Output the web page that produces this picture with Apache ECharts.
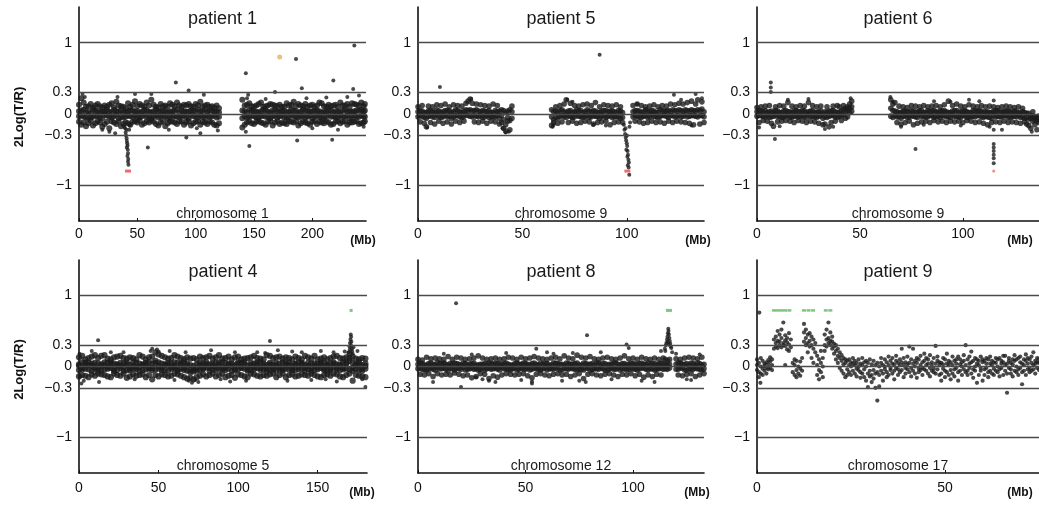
<!DOCTYPE html>
<html><head><meta charset="utf-8">
<script src="https://cdn.jsdelivr.net/npm/echarts@6/dist/echarts.min.js"></script>
<style>html,body{margin:0;padding:0;background:#fff}#c{width:1039px;height:505px}</style>
</head><body><div id="c"></div>
<script>
// ---------- tick labels ----------
const yTicks = [-1, -0.3, 0, 0.3, 1];
const xTicks1 = [0, 50, 100, 150, 200];
const xTicks5 = [0, 50, 100];
const xTicks6 = [0, 50, 100];
const xTicks4 = [0, 50, 100, 150];
const xTicks8 = [0, 50, 100];
const xTicks9 = [0, 50];

// ---------- patient 1, chromosome 1: rows [Mb, log ratios...] ----------
const band1 = [
[0,.04,-.03,.13,-.11],[2,-.02,.05,.22,-.15],[4,.06,-.04,-.12,.16],[6,-.05,.02,.1,-.17],[8,.03,-.06,-.13,.11],[10,.01,-.05,.14,-.09],[12,-.04,.06,-.16,.09],[14,.05,-.02,.12,-.13],[16,-.03,.04,-.1,.14],[18,.02,-.05,.11,-.12],[20,-.06,.03,.09,-.18],[22,.04,-.01,-.14,.12],[24,-.02,.06,.1,-.11],[26,.03,-.04,-.2,.13],[28,-.05,.02,.15,-.1],[30,.06,-.03,-.12,.09],[32,-.01,.04,.17,-.14],[34,.03,-.06,-.1,.12],[36,-.04,.05,.11,-.17],[38,.02,-.05,-.14,.1],[40,-.04,.03,.08,-.12],[42,.04,-.02,-.13,.15],[44,-.03,.05,.1,-.15],[46,.05,-.04,-.11,.13],[48,-.02,.03,.18,-.1],[50,.04,-.05,-.12,.11],[52,-.05,.02,.14,-.09],[54,.03,-.03,-.15,.12],[56,-.01,.06,.1,-.13],[58,.05,-.04,-.1,.16],[60,-.04,.03,.12,-.12],[62,.02,-.06,-.09,.2],[64,-.03,.04,.13,-.11],[66,.06,-.02,-.14,.1],[68,-.05,.03,.09,-.16],[70,.03,-.04,-.12,.14],[72,-.02,.05,.11,-.1],[74,.04,-.03,-.17,.12],[76,-.06,.02,.1,-.13],[78,.03,-.05,-.11,.15],[80,-.02,.04,.13,-.1],[82,.05,-.03,-.12,.11],[84,-.04,.06,.16,-.14],[86,.02,-.04,-.1,.12],[88,-.03,.05,.1,-.11],[90,.04,-.02,-.15,.13],[92,-.05,.03,.12,-.12],[94,.03,-.06,-.1,.14],[96,-.01,.05,.11,-.16],[98,.05,-.03,-.13,.1],[100,-.03,.04,.14,-.11],[102,.06,-.05,-.1,.12],[104,-.02,.03,.17,-.15],[106,.04,-.04,-.11,.1],[108,-.05,.06,.12,-.12],[110,.03,-.02,-.14,.13],[112,-.04,.05,.1,-.1],[114,.05,-.03,-.12,.11],[116,-.02,.04,.09,-.15],[118,.03,-.05,-.16,.12],[120,-.04,.02,.08,-.13],
[140,.05,-.06,.2,-.19],[142,-.03,.04,-.15,.12],[144,.02,-.05,.13,-.12],[146,-.04,.06,-.1,.15],[148,.05,-.02,.11,-.13],[150,-.03,.04,-.14,.1],[152,.03,-.05,.12,-.11],[154,-.05,.02,-.1,.14],[156,.04,-.03,.16,-.12],[158,-.02,.06,-.13,.1],[160,.05,-.04,.11,-.15],[162,-.04,.03,-.11,.12],[164,.02,-.06,.14,-.1],[166,-.03,.05,-.16,.13],[168,.06,-.02,.12,-.12],[170,-.05,.04,-.1,.11],[172,.03,-.03,.13,-.14],[174,-.02,.05,-.12,.1],[176,.04,-.05,.1,-.13],[178,-.06,.02,-.14,.15],[180,.03,-.04,.12,-.1],[182,-.01,.06,-.11,.13],[184,.05,-.03,.17,-.12],[186,-.04,.04,-.1,.11],[188,.02,-.05,.14,-.16],[190,-.03,.03,-.13,.12],[192,.06,-.02,.11,-.1],[194,-.05,.05,-.12,.14],[196,.03,-.04,.1,-.13],[198,-.02,.03,-.15,.12],[200,.04,-.06,.13,-.11],[202,-.03,.05,-.1,.1],[204,.05,-.02,.12,-.14],[206,-.04,.04,-.11,.16],[208,.02,-.05,.15,-.12],[210,-.06,.03,-.13,.11],[212,.03,-.03,.1,-.1],[214,-.01,.06,-.12,.13],[216,.05,-.04,.11,-.15],[218,-.03,.02,-.14,.12],[220,.04,-.05,.13,-.11],[222,-.05,.04,-.1,.1],[224,.02,-.02,.16,-.13],[226,-.04,.05,-.11,.12],[228,.06,-.03,.12,-.1],[230,-.02,.04,-.15,.14],[232,.03,-.06,.1,-.12],[234,-.05,.03,-.12,.15],[236,.04,-.02,.14,-.11],[238,-.03,.05,-.1,.13],[240,.05,-.04,.12,-.14],[242,-.02,.06,-.13,.16],[244,.03,-.03,.11,-.12],[245,-.04,.05,-.1,.14]
];
const scatter1 = [[143,.57],[186,.77],[236,.96],[83,.44],[218,.47],[59,-.47],[146,-.45],[187,-.37],[217,-.36],[92,-.33],[104,-.27],[235,.35],[191,.36],[168,.31],[94,.33],[48,.28],[62,.28],[107,.27],[144,.22],[3,.28],[5,.24],[20,-.22],[26,-.25],[33,.24],[77,-.22],[101,-.2],[119,-.23],[143,-.25],[145,.27],[160,.21],[195,.22],[200,-.2],[212,.23],[230,.24],[222,-.22],[240,.26],[244,-.18],[31,-.27]];
const loss1 = [[39.5,-.2],[40,-.26],[40.3,-.3],[40.8,-.34],[41,-.38],[41.3,-.41],[41.6,-.44],[41,-.47],[41.8,-.5],[42,-.55],[41.5,-.59],[42.2,-.63],[42,-.67],[42.4,-.71],[38.8,-.18],[43,-.22],[43.5,-.16],[40.6,-.22]];
const red1 = [[42, -0.8]];
const orange1 = [[172, 0.8]];

// ---------- patient 5, chromosome 9 ----------
const band5 = [
[0,.03,-.04,.1],[1,-.02,.05,-.11],[2,.04,-.03,.12],[3,-.05,.02,-.13],[4,.02,-.06,-.18],[5,-.03,.04,.11],[6,.05,-.02,-.12],[7,-.04,.03,.1],[8,.02,-.05,-.14],[9,-.01,.06,.13],[10,.04,-.03,-.1],[11,-.05,.02,.12],[12,.03,-.04,-.13],[13,-.02,.05,.14],[14,.05,-.03,-.11],[15,-.03,.04,.1],[16,.02,-.06,-.14],[17,-.04,.03,.13],[18,.06,-.02,-.1],[19,-.02,.05,.12],[20,.03,-.04,-.12],[21,-.05,.02,.11],[22,.04,-.03,-.1],[23,-.01,.06,.15],[24,.05,-.02,.18],[25,-.03,.06,.21],[26,.04,-.04,.15],[27,-.02,.05,-.11],[28,.06,-.03,.14],[29,-.04,.04,-.12],[30,.03,-.02,.13],[31,-.05,.05,-.1],[32,.04,-.04,.12],[33,-.02,.03,-.13],[34,.05,-.05,.11],[35,-.03,.02,-.1],[36,.02,-.04,.14],[37,-.04,.05,-.11],[38,.03,-.02,.12],[39,-.06,.04,-.14],[40,-.02,-.12,.06],[41,-.08,-.2,.05],[42,.02,-.15,-.24],[43,-.05,-.1,.04],[44,-.09,-.22,.06],[45,.03,-.06,.11],
[64,-.04,.06,-.16],[65,.03,-.08,-.12],[66,-.05,.04,.1],[67,.02,-.06,-.13],[68,-.03,.05,.12],[69,.06,-.02,-.11],[70,-.04,.03,.14],[71,.02,-.05,.2],[72,-.02,.04,-.12],[73,.05,-.03,.15],[74,-.05,.02,-.1],[75,.03,-.04,.12],[76,-.01,.06,-.13],[77,.04,-.03,.11],[78,-.04,.05,-.12],[79,.02,-.05,.13],[80,-.03,.03,-.1],[81,.06,-.02,.14],[82,-.05,.04,-.11],[83,.03,-.04,.12],[84,-.02,.05,-.14],[85,.04,-.03,.16],[86,-.04,.02,-.12],[87,.02,-.06,.1],[88,-.03,.04,-.11],[89,.05,-.02,.13],[90,-.05,.05,-.1],[91,.03,-.03,.12],[92,-.02,.04,-.15],[93,.04,-.05,.11],[94,-.04,.03,-.12],[95,.02,-.04,.13],[96,-.03,.05,-.11],[97,.04,-.06,.1],[98,-.05,.02,-.12],
[103,.03,-.04,.12],[104,-.02,.05,-.1],[105,.05,-.03,.14],[106,-.04,.04,-.11],[107,.02,-.05,.12],[108,-.03,.03,-.13],[109,.06,-.02,.1],[110,-.05,.04,-.12],[111,.03,-.04,.11],[112,-.01,.05,-.1],[113,.04,-.03,.13],[114,-.04,.02,-.12],[115,.02,-.05,.1],[116,-.03,.06,-.11],[117,.05,-.02,.12],[118,-.02,.04,-.13],[119,.04,-.03,.11],[120,-.05,.05,-.1],[121,.03,-.02,.14],[122,-.02,.06,-.12],[123,.05,-.04,.13],[124,-.03,.04,-.1],[125,.06,-.02,.15],[126,-.04,.05,-.11],[127,.03,-.03,.14],[128,-.01,.06,-.12],[129,.05,-.04,.16],[130,-.03,.04,-.13],[131,.06,-.02,.18],[132,-.02,.05,-.15],[133,.04,-.03,.14],[134,-.04,.06,.2],[135,.05,-.02,-.14],[136,-.02,.07,.17],[137,.03,-.04,-.12]
];
const scatter5 = [[10.5,.38],[87,.83],[122.6,.27],[133,.28],[136,.22],[4.4,-.19],[25.5,.21],[42,-.26],[43.5,-.25],[40.5,-.2],[71.5,.2],[105,.14],[64.5,-.18],[65,-.15],[131,-.16],[126,.2],[74,.17],[90,-.16],[84,-.15]];
const loss5 = [[98.6,-.15],[98.9,-.22],[99.2,-.28],[99.5,-.33],[99.7,-.37],[100,-.41],[100.2,-.45],[99.8,-.5],[100.4,-.52],[100.6,-.57],[100.3,-.6],[100.8,-.64],[101,-.68],[100.5,-.72],[100.9,-.75],[101.2,-.85],[99.4,-.2],[100.1,-.3],[101.3,-.18],[101.6,-.12]];
const red5 = [[100.3, -0.8]];

// ---------- patient 6, chromosome 9 ----------
const band6 = [
[0,.03,-.03,.09],[1,-.02,.05,-.12],[2,.04,-.02,.1],[3,-.03,.03,-.09],[4,.05,-.04,.11],[5,-.02,.02,-.1],[6,.03,-.05,.12],[7,-.04,.04,-.13],[8,.02,-.03,-.17],[9,-.01,.05,.1],[10,.04,-.04,-.11],[11,-.03,.02,.12],[12,.02,-.05,-.1],[13,-.04,.04,.11],[14,.05,-.02,-.09],[15,-.02,.03,.16],[16,.03,-.04,-.1],[17,-.05,.02,.11],[18,.04,-.03,-.12],[19,-.02,.05,.1],[20,.03,-.04,-.09],[21,-.03,.03,.12],[22,.05,-.02,-.1],[23,-.04,.04,.11],[24,.02,-.05,-.12],[25,-.01,.03,.16],[26,.04,-.03,-.1],[27,-.03,.05,.12],[28,.02,-.04,-.11],[29,-.05,.02,.1],[30,.03,-.03,-.13],[31,-.02,.04,.11],[32,.01,-.06,-.15],[33,-.04,.03,-.14],[34,.02,-.05,.1],[35,-.03,.04,-.18],[36,.04,-.02,-.12],[37,-.02,.05,.11],[38,.03,-.04,-.1],[39,-.05,.02,.12],[40,.02,-.03,.1],[41,-.02,.05,-.09],[42,.06,-.01,.12],[43,.03,.08,-.06],[44,.05,.1,-.04],[45,.08,.14,.02],[46,.1,.04,.18],
[65,.08,-.03,.2],[66,.05,-.05,.14],[67,-.02,.04,.16],[68,.03,-.04,-.12],[69,-.04,.02,.11],[70,.02,-.06,-.14],[71,-.03,.04,.1],[72,.04,-.02,-.12],[73,-.05,.03,.09],[74,.02,-.04,-.1],[75,-.02,.05,.12],[76,.04,-.03,-.15],[77,-.04,.02,.11],[78,.03,-.05,-.13],[79,-.01,.04,.1],[80,.05,-.03,-.11],[81,-.03,.02,.12],[82,.02,-.04,-.1],[83,-.04,.05,.1],[84,.03,-.02,-.12],[85,-.02,.04,.11],[86,.05,-.05,-.09],[87,-.03,.03,.12],[88,.02,-.03,-.11],[89,-.05,.04,.1],[90,.04,-.02,-.1],[91,-.02,.05,.13],[92,.03,-.04,-.12],[93,-.04,.02,.18],[94,.02,-.05,-.1],[95,-.01,.04,.12],[96,.05,-.03,-.11],[97,-.03,.05,.14],[98,.02,-.04,-.1],[99,-.05,.03,.11],[100,.04,-.02,-.12],[101,-.02,.04,.1],[102,.03,-.05,-.09],[103,-.04,.02,.13],[104,.02,-.03,-.1],[105,-.03,.05,.11],[106,.04,-.04,-.12],[107,-.02,.03,.1],[108,.05,-.02,-.11],[109,-.04,.04,.12],[110,.02,-.05,-.13],[111,-.03,.03,.1],[112,.03,-.04,-.15],[113,-.05,.02,.11],[114,.02,-.06,-.12],[115,-.02,.04,.1],[116,.04,-.03,-.11],[117,-.03,.05,.09],[118,.02,-.04,-.12],[119,-.04,.03,.1],[120,.03,-.02,-.1],[121,-.02,.04,.11],[122,.04,-.05,-.12],[123,-.05,.03,.1],[124,.02,-.03,-.11],[125,-.03,.04,.09],[126,.03,-.04,-.12],[127,-.02,.02,.1],[128,.01,-.05,-.13],[129,-.04,.03,.08],[130,.02,-.06,-.11],[131,-.05,.01,-.14],[132,.01,-.07,-.16],[133,-.06,-.02,-.2],[134,-.03,-.1,.03],[135,-.08,-.04,-.15],[136,-.1,-.05,-.22],[137,-.07,-.12,-.03]
];
const scatter6 = [[6.7,.44],[6.7,.37],[6.7,.31],[8.7,-.35],[1,-.19],[11,-.17],[15,.2],[25,.21],[33,-.21],[37,-.18],[45.5,.22],[64.8,.24],[66,.17],[70,-.18],[77,-.49],[86,.18],[81,-.15],[94,.17],[103,.2],[115,.19],[113,-.18],[115,-.22],[119,-.22],[99,-.16],[133.5,-.25],[108,.18]];
const loss6 = [[115,-.42],[115,-.47],[115,-.52],[115,-.57],[115,-.62],[115,-.69]];
const red6 = [[115, -0.8]];

// ---------- patient 4, chromosome 5 ----------
const band4 = [
[0,.03,-.05,.01,.13,-.14],[2,-.02,.06,-.04,-.12,.15],[4,.05,-.03,.02,.1,-.13],[6,-.04,.02,.06,-.15,.12],[8,.01,-.06,.04,.14,-.11],[10,-.03,.05,-.01,-.13,.16],[12,.04,-.02,-.06,.12,-.1],[14,-.05,.03,.01,-.11,.15],[16,.02,-.04,.06,.16,-.12],[18,-.01,.05,-.03,-.14,.11],[20,.06,-.02,.03,.1,-.15],[22,-.04,.04,-.06,.13,-.1],[24,.03,-.05,.02,-.12,.14],[26,-.02,.01,.05,.15,-.13],[28,.04,-.06,-.01,-.1,.12],[30,-.05,.03,.06,.11,-.16],[32,.02,-.03,-.05,-.14,.13],[34,-.03,.06,.01,.12,-.11],[36,.05,-.01,-.04,-.13,.1],[38,-.01,.04,-.06,.16,-.12],[40,.03,-.05,.02,-.11,.14],[42,-.04,.02,.05,.1,-.15],[44,.06,-.03,-.02,-.12,.13],[46,-.02,.04,-.05,.14,-.18],
[48,.05,-.04,.08,.2,-.12],[50,-.03,.06,.01,.17,-.14],[52,.04,-.02,-.05,-.11,.15],[54,-.05,.03,.02,.13,-.12],[56,.02,-.06,.05,-.14,.11],[58,-.01,.04,-.03,.12,-.13],[60,.06,-.02,.01,-.1,.16],[62,-.04,.05,-.06,.14,-.11],[64,.03,-.03,.04,-.13,.12],[66,-.02,.06,-.05,.1,-.15],[68,.04,-.06,.01,-.17,.13],[70,-.05,.02,-.08,-.16,.11],[72,.01,-.04,-.07,.12,-.18],[74,-.03,.03,-.06,-.15,.1],[76,.05,-.05,.02,.14,-.13],[78,-.02,.04,-.04,-.11,.12],[80,.03,-.01,.06,.13,-.14],[82,-.06,.03,-.02,-.12,.15],[84,.04,-.04,.01,.11,-.1],[86,-.01,.05,-.05,-.14,.13],[88,.02,-.03,.06,.16,-.12],[90,-.04,.06,-.01,-.1,.11],[92,.05,-.02,-.05,.12,-.15],[94,-.03,.04,.02,-.13,.14],[96,.01,-.06,.04,.1,-.12],[98,-.05,.02,-.03,-.16,.13],[100,.04,-.04,.06,.14,-.11],[102,-.02,.05,-.01,-.12,.1],[104,.06,-.03,.03,.11,-.14],[106,-.04,.01,-.06,-.15,.12],[108,.02,-.05,.05,.13,-.1],[110,-.01,.04,-.04,-.11,.15],[112,.03,-.02,.06,.12,-.13],[114,-.05,.06,-.02,-.14,.11],[116,.04,-.04,.01,.1,-.12],[118,-.03,.02,-.06,-.13,.16],[120,.05,-.05,.03,.15,-.11],[122,-.02,.03,-.04,-.1,.12],[124,.01,-.06,.05,.13,-.15],[126,-.04,.04,-.01,-.12,.14],[128,.06,-.02,-.05,.11,-.1],[130,-.03,.05,.02,-.15,.13],[132,.02,-.04,.06,.12,-.12],[134,-.05,.01,-.03,-.11,.1],[136,.04,-.05,.03,.14,-.14],[138,-.01,.06,-.04,-.13,.12],[140,.03,-.03,.05,.1,-.11],[142,-.06,.02,-.02,-.12,.15],[144,.05,-.04,.01,.13,-.13],[146,-.02,.04,-.06,-.1,.11],[148,.01,-.05,.04,.15,-.12],[150,-.04,.03,-.01,-.14,.1],[152,.06,-.02,.03,.11,-.15],[154,-.03,.05,-.05,-.12,.13],[156,.02,-.06,.02,.1,-.11],[158,-.05,.04,-.03,-.13,.12],[160,.04,-.01,.06,.14,-.1],[162,-.02,.03,-.04,-.11,.15],[164,.03,-.05,.01,.12,-.14],[166,-.04,.06,-.02,-.15,.11],[168,.05,-.03,.04,.13,-.12],[170,.08,-.04,.12,.18,-.1],[172,-.02,.05,-.06,.14,-.2],[174,.03,-.04,.02,-.12,.11],[176,-.05,.02,.06,.1,-.13],[178,.02,-.06,-.03,-.14,.12],[180,-.03,.04,.01,.11,-.15]
];
const scatter4 = [[12,.37],[120,.36],[12.6,-.22],[180,-.29],[0.5,-.14],[0.3,.18],[3,-.2],[1.5,-.24],[20,.2],[45,.22],[46,.25],[49,.24],[50,.21],[57,.22],[67,.2],[69,-.2],[71,-.23],[73,-.19],[75,-.22],[83,.23],[89,-.18],[98,.2],[105,-.2],[112,.2],[117,.19],[125,.23],[131,-.2],[134,.21],[140,.2],[146,-.19],[152,.22],[155,-.18],[160,.2],[167,.21],[175,.22],[178,-.18],[162,-.21],[95,-.21],[60,-.19],[35,-.18],[28,.2],[8,.22]];
const gain4 = [[169.5,.2],[170,.28],[170.3,.33],[170.6,.38],[170.8,.45],[171,.42],[171.2,.35],[170.9,.3],[171.4,.25],[171.7,.22],[172,.18],[170.2,.24],[172.5,.27]];
const green4 = [[171, 0.79]];

// ---------- patient 8, chromosome 12 ----------
const band8 = [
[0,.03,-.03,.1],[1,-.02,.05,-.11],[2,.04,-.04,.09],[3,-.05,.02,-.12],[4,.02,-.05,.13],[5,-.03,.04,-.1],[6,.05,-.02,.11],[7,-.04,.03,-.14],[8,.02,-.05,.12],[9,-.01,.06,-.1],[10,.04,-.03,.11],[11,-.03,.04,-.12],[12,.05,-.02,.1],[13,-.04,.03,-.11],[14,.02,-.06,.14],[15,-.02,.04,-.12],[16,.03,-.03,.1],[17,-.05,.05,-.09],[18,.04,-.02,.13],[19,-.03,.03,-.11],[20,.02,-.04,.12],[21,-.01,.05,-.13],[22,.04,-.05,.1],[23,-.04,.02,-.12],[24,.03,-.03,.11],[25,-.02,.04,-.16],[26,.05,-.04,.12],[27,-.03,.02,-.14],[28,.02,-.05,.15],[29,-.04,.03,-.1],[30,.03,-.02,.12],[31,-.05,.04,-.11],[32,.02,-.03,.1],[33,-.02,.05,-.17],[34,.04,-.04,.11],[35,-.03,.03,-.13],[36,.05,-.02,.12],[37,-.04,.04,-.15],[38,.02,-.05,.1],[39,-.01,.03,-.12],[40,.04,-.03,.11],[41,-.03,.05,-.1],[42,.03,-.04,.13],[43,-.05,.02,-.11],[44,.02,-.03,.12],[45,-.02,.04,-.12],[46,.05,-.05,.1],[47,-.04,.03,-.11],[48,.03,-.02,.13],[49,-.03,.05,-.1],[50,.04,-.04,.11],[51,-.02,.03,-.13],[52,.02,-.05,.12],[53,-.04,.04,-.16],[54,.05,-.02,.14],[55,-.03,.03,-.11],[56,.02,-.04,.12],[57,-.05,.05,-.1],[58,.03,-.03,.11],[59,-.02,.04,-.12],[60,.04,-.05,.1],[61,-.03,.02,-.13],[62,.02,-.03,.12],[63,-.04,.05,-.11],[64,.05,-.02,.13],[65,-.02,.04,-.1],[66,.03,-.05,.11],[67,-.05,.03,-.12],[68,.02,-.02,.15],[69,-.03,.05,-.11],[70,.04,-.04,.12],[71,-.02,.03,-.14],[72,.03,-.03,.11],[73,-.04,.04,-.12],[74,.05,-.05,.16],[75,-.03,.02,-.1],[76,.02,-.04,.13],[77,-.05,.05,-.17],[78,.04,-.02,.12],[79,-.02,.03,-.11],[80,.03,-.05,.14],[81,-.04,.04,-.1],[82,.02,-.03,.11],[83,-.03,.05,-.12],[84,.05,-.04,.1],[85,-.02,.02,-.13],[86,.04,-.03,.12],[87,-.05,.04,-.11],[88,.02,-.05,.13],[89,-.03,.03,-.1],[90,.03,-.02,.11],[91,-.04,.05,-.12],[92,.05,-.04,.1],[93,-.02,.03,-.14],[94,.02,-.05,.12],[95,-.03,.04,-.11],[96,.04,-.03,.15],[97,-.05,.02,-.12],[98,.03,-.04,.11],[99,-.02,.05,-.1],[100,.04,-.03,.12],[101,-.04,.03,-.13],[102,.02,-.05,.1],[103,-.03,.04,-.11],[104,.05,-.02,.13],[105,-.02,.03,-.15],[106,.03,-.04,.11],[107,-.05,.05,-.12],[108,.02,-.03,.1],[109,-.03,.04,-.14],[110,.04,-.05,.12],[111,-.04,.02,-.11],[112,.03,-.03,.1],[113,-.02,.05,-.12],[114,.04,-.04,.12],[115,-.03,.02,.1],[116,.02,-.04,.08],[117,-.02,.03,.1],
[120,.03,-.04,.11],[121,-.04,.05,-.12],[122,.05,-.02,.1],[123,-.02,.03,-.13],[124,.03,-.05,.12],[125,-.05,.04,-.11],[126,.02,-.03,.13],[127,-.03,.05,-.1],[128,.04,-.04,.12],[129,-.02,.02,-.14],[130,.05,-.03,.11],[131,-.04,.04,-.12],[132,.02,-.05,.13],[133,-.03,.03,-.1]
];
const scatter8 = [[17.7,.89],[78.6,.44],[97,.31],[98,.26],[55,.25],[7,-.22],[20,-.29],[53,-.24],[53,-.21],[78,-.22],[75,-.2],[30,-.18],[33,-.2],[36,-.22],[12,.18],[25,.17],[48,-.19],[60,.2],[67,-.2],[72,.19],[85,.2],[90,-.18],[104,-.2],[110,-.22],[113,.22],[120,.18],[125,-.18],[131,.17],[127,-.19],[63,.18],[41,.19],[27,-.15]];
const gain8 = [[114.8,.25],[115.2,.3],[115.5,.33],[115.8,.38],[116,.42],[116.2,.47],[116.4,.53],[116.5,.5],[116.7,.45],[116.9,.4],[117.1,.36],[117.3,.32],[117.5,.28],[117.8,.26],[116.1,.35],[116.6,.31],[115,.22],[118.2,.2]];
const green8 = [[116.7, 0.79]];

// ---------- patient 9, chromosome 17 ----------
const band9 = [
[0,.02,-.05,.1],[0.5,-.08,.05,-.15],[1,.12,-.1,0],[1.5,-.03,.08,-.12],[2,.04,-.06,.01],[2.5,-.02,-.1,.06],[3,.03,-.04,.09],[3.5,.07,-.02,.13],[4,.02,.1,-.05],
[4.5,.25,.38],[5,.42,.33,.28],[5.5,.5,.36,.26],[6,.3,.45,.35],[6.5,.27,.4,.52],[7,.62,.33,.3],[7.5,.44,.29,.37,.02],[8,.24,.4,.34],[8.5,.47,.31,.22],[9,.38,.27],
[9.5,.05,-.08],[10,-.12,.02,.1],[10.5,-.05,.08,-.15],[11,0,-.1],[11.5,.07,-.03,-.13],[12,-.06,.12],
[12.5,.48,.35,.6],[13,.4,.52,.3],[13.5,.45,.33,.2],[14,.36,.47,.28],[14.5,.3,.42,.12],[15,.38,.25,.05],[15.5,.2,.33],
[16,.02,-.12,.15],[16.5,.1,-.18,-.05],[17,.22,.05,-.08],[17.5,-.15,.12,0],
[18,.3,.45,.22],[18.5,.52,.38,.28],[19,.62,.4,.33],[19.5,.48,.3,.36],[20,.35,.25,.42],[20.5,.28,.18,.32],
[21,.22,.1,.3],[21.5,.15,.05,.25],[22,.2,-.02,.12],[22.5,.08,.16,-.06],[23,.12,-.1,.03],[23.5,.05,-.15,.1],[24,-.04,.08,-.12],[24.5,.1,-.08,.02],[25,-.12,.06,0],
[25.5,.04,-.06,.12],[26,-.1,.02,.08],[26.5,.05,-.14,-.03],[27,.1,-.05,0],[27.5,-.08,.04,-.16],[28,.02,-.1,.12],[28.5,-.15,.06,-.04],[29,0,-.2,.08],[29.5,-.29,-.1,.05],[30,-.06,.1,-.14],[30.5,.03,-.12,-.22],[31,-.05,.08,-.17],[31.5,-.3,-.1,.02],[32,-.48,-.08,.05],[32.5,-.28,0,-.12],[33,.05,-.06,.12],[33.5,-.1,.02,-.2],[34,.1,-.04,0],[34.5,-.08,.06,-.15],[35,.02,-.12,.14],[35.5,-.05,.08,-.02],[36,.12,-.1,.04],[36.5,-.06,.03,-.18],[37,.08,-.02,.15],[37.5,-.12,.05,-.04],[38,.02,-.08,.1],[38.5,.25,-.05,.06],[39,-.15,.02,.12],[39.5,.06,-.1,-.02],[40,-.04,.14,.03],[40.5,.28,-.08,.05],[41,.1,-.02,-.14],[41.5,.25,.04,-.06],[42,-.1,.08,0],[42.5,.05,-.16,.12],[43,-.03,.1,-.08],[43.5,.15,-.05,.02],[44,-.12,.06,-.02],[44.5,.08,-.04,.18],[45,-.06,.02,.12],[45.5,.1,-.1,.04],[46,-.02,.16,-.14],[46.5,.06,-.06,.02],[47,-.08,.12,-.03],[47.5,.29,.04,-.1],[48,-.04,.08,.14],[48.5,.02,-.12,.06],[49,-.1,.05,-.2],[49.5,.12,-.03,.03],[50,-.06,.1,-.15],[50.5,.04,-.08,.18],[51,-.12,.02,.08],[51.5,.06,-.05,-.18],[52,.14,-.1,.02],[52.5,-.04,.08,-.14],[53,.1,-.02,.04],[53.5,-.08,.14,-.2],[54,.03,-.06,.1],[54.5,-.12,.06,0],[55,.08,-.04,.16],[55.5,.3,-.08,.02],[56,-.06,.1,-.12],[56.5,.04,-.02,.14],[57,.21,-.1,.06],[57.5,-.04,.08,-.16],[58,.12,-.06,0],[58.5,-.23,.04,.1],[59,.02,-.12,.08],[59.5,-.06,.14,-.02],[60,-.2,.06,.1],[60.5,.08,-.04,-.12],[61,-.02,.12,.04],[61.5,.1,-.08,-.15],[62,-.06,.04,.14],[62.5,.02,-.1,.08],[63,-.12,.06,-.03],[63.5,.05,-.06,.12],[64,-.08,.1,0],[64.5,.12,-.04,-.14],[65,-.02,.08,.04],[65.5,.06,-.12,.15],[66,.15,-.06,.02],[66.5,-.37,.04,-.1],[67,.08,-.02,.12],[67.5,-.1,.05,-.04],[68,.03,-.14,.1],[68.5,-.06,.08,.16],[69,.1,-.08,0],[69.5,-.04,.12,-.12],[70,.06,-.02,.14],[70.5,-.25,.04,-.08],[71,.1,-.06,.02],[71.5,-.12,.08,.17],[72,.04,-.04,.12],[72.5,-.08,.1,-.02],[73,.14,-.06,.05],[73.5,-.04,.02,.2],[74,.08,-.1,.04],[74.5,-.02,.12,.06],[75,.05,-.05,.1]
];
const scatter9 = [[0.6,.76],[0.9,-.23]];
const green9 = [[4.5,.79],[5.5,.79],[6.5,.79],[7.5,.79],[8.6,.79],[12.5,.79],[13.7,.79],[14.9,.79],[18.3,.79],[19.5,.79]];

// ---------- panel contents ----------
const panels = [
  {title:'patient 1', chrom:'chromosome 1',  xMax:246, xTicks:xTicks1, band:band1, extra:[scatter1, loss1], marks:[{d:red1,c:'red'},{d:orange1,c:'orange'}]},
  {title:'patient 5', chrom:'chromosome 9',  xMax:137, xTicks:xTicks5, band:band5, extra:[scatter5, loss5], marks:[{d:red5,c:'red'}]},
  {title:'patient 6', chrom:'chromosome 9',  xMax:137, xTicks:xTicks6, band:band6, extra:[scatter6, loss6], marks:[{d:red6,c:'reddot'}]},
  {title:'patient 4', chrom:'chromosome 5',  xMax:181, xTicks:xTicks4, band:band4, extra:[scatter4, gain4], marks:[{d:green4,c:'greendot'}]},
  {title:'patient 8', chrom:'chromosome 12', xMax:133, xTicks:xTicks8, band:band8, extra:[scatter8, gain8], marks:[{d:green8,c:'green'}]},
  {title:'patient 9', chrom:'chromosome 17', xMax:75,  xTicks:xTicks9, band:band9, extra:[scatter9], marks:[{d:green9,c:'greendash'}]}
];

// ---------- layout & styles ----------
const layout = [
  {left:79,  top:7,   width:287, height:214, mbX:363,  yName:true,  lm:6, bandSize:6,   dotSize:4},
  {left:418, top:7,   width:286, height:214, mbX:698,  yName:false, lm:6, bandSize:5.6, dotSize:4},
  {left:757, top:7,   width:282, height:214, mbX:1020, yName:false, lm:6, bandSize:5.6, dotSize:4},
  {left:79,  top:260, width:288, height:213, mbX:362,  yName:true,  lm:8, bandSize:6.2, dotSize:4},
  {left:418, top:260, width:286, height:213, mbX:697,  yName:false, lm:8, bandSize:5.6, dotSize:4},
  {left:757, top:260, width:282, height:213, mbX:1020, yName:false, lm:8, bandSize:4.2, dotSize:4.2}
];
const markStyle = {
  red:{symbol:'rect', size:[6,3], color:'#e8484f'},
  reddot:{symbol:'circle', size:3, color:'#ef6a6a'},
  orange:{symbol:'circle', size:5, color:'#dcb463'},
  green:{symbol:'rect', size:[6,3], color:'#5cb85c'},
  greendot:{symbol:'rect', size:[3,3], color:'#5cb85c'},
  greendash:{symbol:'rect', size:[4,2.5], color:'#5cb85c'}
};
const FONT = "'Liberation Sans', Arial, Helvetica, sans-serif";

const expand = rows => rows.flatMap(r => r.slice(1).map(v => [r[0], v]));
const fmt = v => (v < 0 ? '\u2212' + Math.abs(v) : String(v));

const grids = [], xAxes = [], yAxes = [], series = [], graphics = [];
panels.forEach((p, i) => {
  const L = layout[i];
  grids.push({left:L.left, top:L.top, width:L.width, height:L.height, containLabel:false});
  xAxes.push({
    type:'value', gridIndex:i, min:0, max:p.xMax,
    axisLine:{onZero:false, lineStyle:{color:'#111', width:1.6}},
    axisTick:{show:true, inside:true, length:3, customValues:p.xTicks, lineStyle:{color:'#111'}},
    axisLabel:{customValues:p.xTicks, margin:L.lm, fontSize:14, color:'#111', fontFamily:FONT},
    splitLine:{show:false}
  });
  yAxes.push({
    type:'value', gridIndex:i, min:-1.5, max:1.5,
    axisLine:{show:true, onZero:false, lineStyle:{color:'#111', width:1.6}},
    axisTick:{show:false},
    axisLabel:{customValues:yTicks, formatter:fmt, margin:7, fontSize:14, color:'#111', fontFamily:FONT},
    splitLine:{show:false}
  });
  series.push({
    type:'scatter', xAxisIndex:i, yAxisIndex:i, data:[], silent:true, z:1,
    markLine:{silent:true, symbol:['none','none'], animation:false, label:{show:false},
      lineStyle:{color:'#4a4a4a', width:1.3, type:'solid'},
      data:yTicks.map(v => ({yAxis:v}))}
  });
  series.push({
    type:'scatter', xAxisIndex:i, yAxisIndex:i, data:expand(p.band), silent:true, z:3,
    symbol:'circle', symbolSize:L.bandSize, itemStyle:{color:'#1b1b1b'}
  });
  series.push({
    type:'scatter', xAxisIndex:i, yAxisIndex:i, data:[].concat(...p.extra), silent:true, z:3,
    symbol:'circle', symbolSize:L.dotSize, itemStyle:{color:'#1b1b1b'}
  });
  p.marks.forEach(m => {
    const s = markStyle[m.c];
    series.push({type:'scatter', xAxisIndex:i, yAxisIndex:i, data:m.d, silent:true, z:4,
      symbol:s.symbol, symbolSize:s.size, itemStyle:{color:s.color}});
  });
  const cx = L.left + L.width / 2;
  graphics.push({type:'text', x:cx, y:L.top + 12, style:{text:p.title, font:'18px ' + FONT, fill:'#1a1a1a', align:'center', verticalAlign:'middle'}});
  graphics.push({type:'text', x:cx, y:L.top + L.height - 7, style:{text:p.chrom, font:'14px ' + FONT, fill:'#1a1a1a', align:'center', verticalAlign:'middle'}});
  graphics.push({type:'text', x:L.mbX, y:L.top + L.height + 20, style:{text:'(Mb)', font:'bold 12px ' + FONT, fill:'#111', align:'center', verticalAlign:'middle'}});
  if (L.yName) {
    graphics.push({type:'text', x:19, y:L.top + L.height / 2 + 3, rotation:Math.PI / 2,
      style:{text:'2Log(T/R)', font:'bold 13px ' + FONT, fill:'#111', align:'center', verticalAlign:'middle'}});
  }
});

const chart = echarts.init(document.getElementById('c'), null, {renderer:'canvas'});
chart.setOption({
  animation:false, backgroundColor:'#ffffff',
  grid:grids, xAxis:xAxes, yAxis:yAxes, series:series, graphic:graphics
});
</script></body></html>
